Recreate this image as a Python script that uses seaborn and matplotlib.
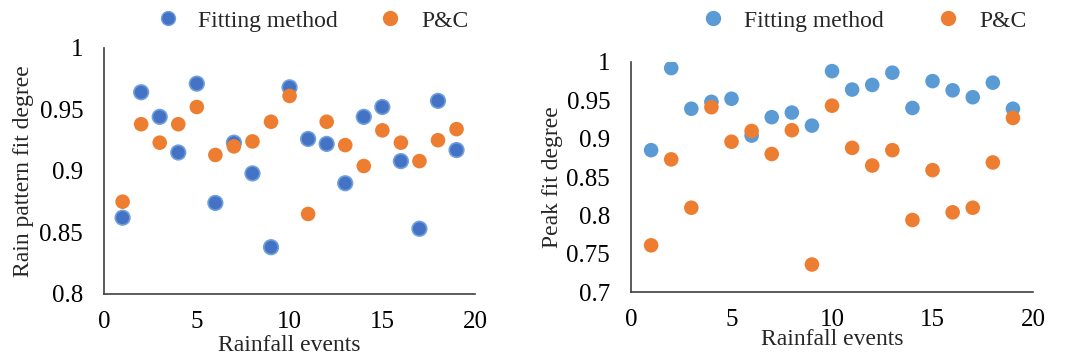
import numpy as np
import pandas as pd
import matplotlib
matplotlib.use("Agg")
import matplotlib.pyplot as plt
import seaborn as sns

sns.set_theme(style="white")
plt.rcParams["font.family"] = ["Liberation Serif", "DejaVu Serif"]

events = list(range(1, 20))

rain_fitting = [0.862, 0.964, 0.944, 0.915, 0.971, 0.874, 0.923, 0.898, 0.838, 0.968,
                0.926, 0.922, 0.890, 0.944, 0.952, 0.908, 0.853, 0.957, 0.917]
rain_pc = [0.875, 0.938, 0.923, 0.938, 0.952, 0.913, 0.920, 0.924, 0.940, 0.961,
           0.865, 0.940, 0.921, 0.904, 0.933, 0.923, 0.908, 0.925, 0.934]

peak_fitting = [0.885, 0.992, 0.939, 0.948, 0.952, 0.904, 0.928, 0.934, 0.917, 0.988,
                0.964, 0.970, 0.986, 0.940, 0.975, 0.963, 0.954, 0.973, 0.939]
peak_pc = [0.761, 0.873, 0.810, 0.941, 0.896, 0.910, 0.880, 0.911, 0.736, 0.943,
           0.888, 0.865, 0.885, 0.794, 0.859, 0.804, 0.810, 0.869, 0.927]

series_names = ["Fitting method", "P&C"]

def long_frame(a, b):
    return pd.DataFrame({
        "event": events + events,
        "value": a + b,
        "series": [series_names[0]] * len(a) + [series_names[1]] * len(b),
    })

fig = plt.figure(figsize=(10.65, 3.58), dpi=100)
ax1 = fig.add_axes([0.0977, 0.179, 0.3484, 0.687])
ax2 = fig.add_axes([0.5925, 0.184, 0.3775, 0.643])

TICK_FS = 18
LABEL_FS = 17

# left panel: rain pattern fit
sns.scatterplot(data=long_frame(rain_fitting, rain_pc), x="event", y="value",
                hue="series", palette={"Fitting method": "#4472C4", "P&C": "#ED7D31"},
                s=110, linewidth=1.2, edgecolor=None, ax=ax1, legend=False, zorder=3)
# light rim on the blue markers
ax1.collections[0].set_edgecolors(
    ["#6FA0DC" if c[2] > 0.6 else (1, 1, 1, 0) for c in ax1.collections[0].get_facecolors()])

# right panel: peak fit
sns.scatterplot(data=long_frame(peak_fitting, peak_pc), x="event", y="value",
                hue="series", palette={"Fitting method": "#5B9BD5", "P&C": "#ED7D31"},
                s=110, linewidth=0, ax=ax2, legend=False, zorder=3)

ax1.set_ylim(0.8, 1.0)
ax1.set_yticks([0.8, 0.85, 0.9, 0.95, 1.0])
ax1.set_yticklabels(["0.8", "0.85", "0.9", "0.95", "1"])
ax1.set_ylabel("Rain pattern fit degree", fontsize=LABEL_FS)
ax1.yaxis.set_label_coords(-0.19, 0.5)

ax2.set_ylim(0.7, 1.0)
ax2.set_yticks([0.7, 0.75, 0.8, 0.85, 0.9, 0.95, 1.0])
ax2.set_yticklabels(["0.7", "0.75", "0.8", "0.85", "0.9", "0.95", "1"])
ax2.set_ylabel("Peak fit degree", fontsize=LABEL_FS)
ax2.yaxis.set_label_coords(-0.168, 0.5)

legend_layout = {ax1: (0.293, 1.7, 2), ax2: (0.811, 2.25, -1)}

for ax, blue in ((ax1, "#4472C4"), (ax2, "#5B9BD5")):
    cx, colspace, xpad = legend_layout[ax]
    ax.set_xlim(0, 20)
    ax.set_xticks([0, 5, 10, 15, 20])
    ax.set_xlabel("Rainfall events", fontsize=LABEL_FS, labelpad=xpad)
    ax.tick_params(axis="both", labelsize=TICK_FS, length=0, colors="black")
    ax.tick_params(axis="y", pad=15)
    ax.tick_params(axis="x", pad=12)
    for side in ("top", "right"):
        ax.spines[side].set_visible(False)
    for side in ("left", "bottom"):
        ax.spines[side].set_color("#404040")
        ax.spines[side].set_linewidth(1.2)
    handles = [
        plt.Line2D([], [], marker="o", linestyle="", markersize=10,
                   markerfacecolor=blue, markeredgecolor="#6FA0DC" if ax is ax1 else blue),
        plt.Line2D([], [], marker="o", linestyle="", markersize=10,
                   markerfacecolor="#ED7D31", markeredgecolor="#ED7D31"),
    ]
    fig.legend(handles, series_names, loc="center",
               bbox_to_anchor=(cx, 0.942),
               ncol=2, frameon=False, fontsize=LABEL_FS, handlelength=1.0,
               handletextpad=0.8, columnspacing=colspace)

fig.savefig("out.png", dpi=100)
